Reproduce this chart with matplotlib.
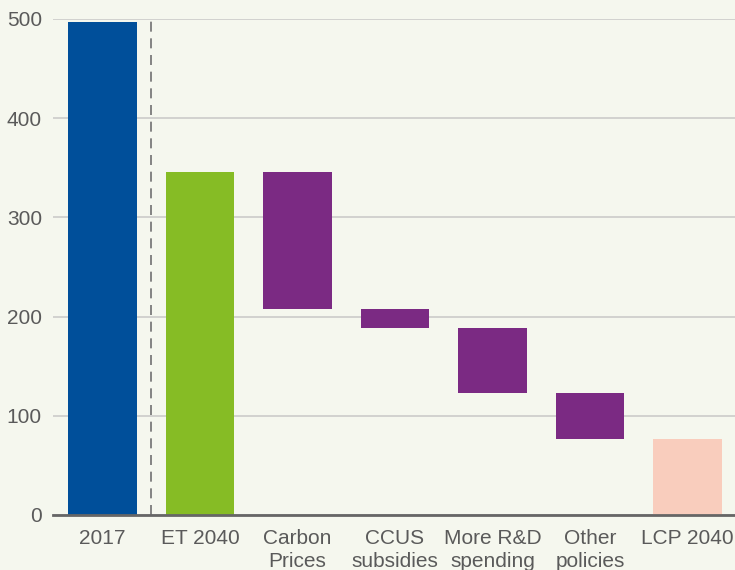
import matplotlib
matplotlib.use("Agg")
import matplotlib.pyplot as plt

labels = ["2017", "ET 2040", "Carbon\nPrices", "CCUS\nsubsidies", "More R&D\nspending", "Other\npolicies", "LCP 2040"]
start_2017 = 497
et_2040 = 346
reductions = [138, 19, 66, 46]

blue = "#004f9a"
green = "#86bc25"
purple = "#7b2a83"
peach = "#f9cdbd"
bg = "#f5f7ee"

plt.rcParams["font.family"] = ["Liberation Sans", "DejaVu Sans"]

fig = plt.figure(figsize=(7.35, 5.7), dpi=100, facecolor=bg)
ax = fig.add_axes([0.0721, 0.0965, 0.9279, 0.8702], facecolor=bg)

w = 0.7
ax.bar(0, start_2017, width=w, color=blue, zorder=3)
ax.bar(1, et_2040, width=w, color=green, zorder=3)
level = et_2040
for i, r in enumerate(reductions):
    ax.bar(2 + i, r, bottom=level - r, width=w, color=purple, zorder=3)
    level -= r
ax.bar(6, level, width=w, color=peach, zorder=3)

ax.axvline(0.5, color="#707070", lw=1.2, ls=(0, (6, 4)), zorder=2)

ax.set_xlim(-0.507, 6.486)
ax.set_ylim(0, 500)
ax.set_yticks([0, 100, 200, 300, 400, 500])
ax.set_xticks(range(len(labels)))
ax.set_xticklabels(labels, linespacing=1.25)
ax.grid(axis="y", color="#cfcfcc", lw=1.3, zorder=0)
ax.tick_params(axis="both", length=0, labelsize=15, labelcolor="#5a5a5a")
ax.tick_params(axis="x", pad=10)
ax.tick_params(axis="y", pad=8)
for s in ["left", "right", "top"]:
    ax.spines[s].set_visible(False)
ax.spines["bottom"].set_color("#666666")
ax.spines["bottom"].set_linewidth(2)
ax.spines["bottom"].set_zorder(4)

fig.savefig("out.png", dpi=100, facecolor=bg)
